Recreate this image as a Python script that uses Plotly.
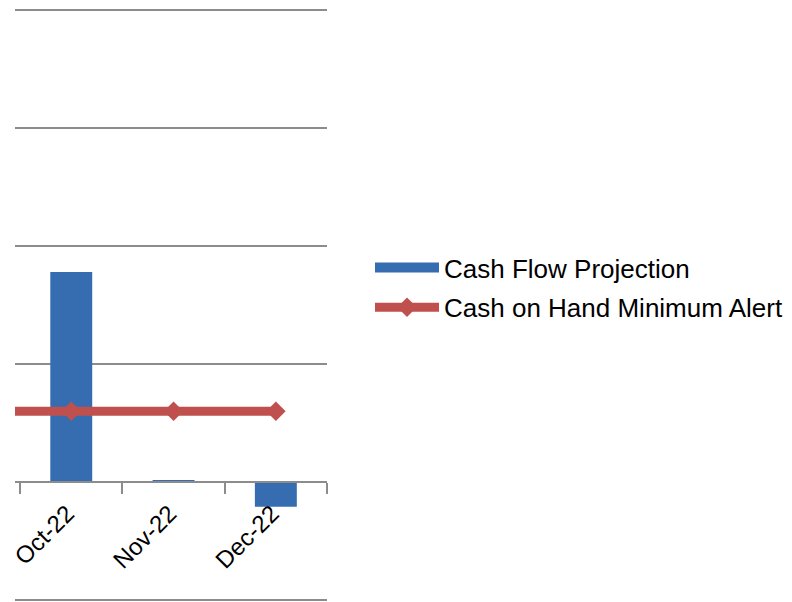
import plotly.graph_objects as go

# Data
months_all = ["Sep-22", "Oct-22", "Nov-22", "Dec-22"]
bar_months = ["Oct-22", "Nov-22", "Dec-22"]
cash_flow_projection = [17800, 120, -2100]
alert_months = ["Sep-22", "Oct-22", "Nov-22", "Dec-22"]
cash_minimum_alert = [6000, 6000, 6000, 6000]

BAR_COLOR = "#366db1"
LINE_COLOR = "#c0504d"
GRID = "#8c8c8c"
FONT = "Liberation Sans, Arial, sans-serif"

fig = go.Figure()
fig.add_trace(go.Bar(
    x=bar_months, y=cash_flow_projection, name="Cash Flow Projection",
    marker=dict(color=BAR_COLOR, line=dict(width=0)), width=0.41,
    showlegend=False, legendgroup="cf",
))
# legend proxy giving the bar series a wide swatch like the original
fig.add_trace(go.Scatter(
    x=[None], y=[None], name="Cash Flow Projection", mode="lines",
    line=dict(color=BAR_COLOR, width=17), legendgroup="cf", hoverinfo="skip",
))
fig.add_trace(go.Scatter(
    x=alert_months, y=cash_minimum_alert, name="Cash on Hand Minimum Alert",
    mode="lines+markers", legendgroup="alert",
    line=dict(color=LINE_COLOR, width=9),
    marker=dict(symbol="diamond", size=15, color=LINE_COLOR),
))

fig.update_layout(
    width=792, height=602,
    margin=dict(l=7, r=473, t=0, b=8, autoexpand=False),
    paper_bgcolor="white", plot_bgcolor="white",
    font=dict(family=FONT, size=24, color="black"),
    showlegend=True,
    legend=dict(
        xref="container", yref="container",
        x=362 / 792, y=1 - 236 / 602, xanchor="left", yanchor="top",
        font=dict(size=26), bgcolor="rgba(0,0,0,0)",
        tracegroupgap=3, itemwidth=64,
    ),
    xaxis=dict(
        type="category", categoryorder="array", categoryarray=months_all,
        range=[0.45, 3.5], anchor="free", position=10170 / 50340, automargin=False,
        showline=True, linecolor=GRID, linewidth=2,
        ticks="outside", tickson="boundaries", ticklen=11, tickcolor=GRID, tickwidth=2,
        tickangle=-45, showgrid=False, tickfont=dict(size=24),
        ticklabelstandoff=7, ticklabelshift=-4,
    ),
    yaxis=dict(
        range=[-10170, 40170], dtick=10000, tick0=0, automargin=False,
        showgrid=True, gridcolor=GRID, gridwidth=2,
        showticklabels=False, zeroline=False, showline=False,
    ),
)

fig.write_html("out.html")
